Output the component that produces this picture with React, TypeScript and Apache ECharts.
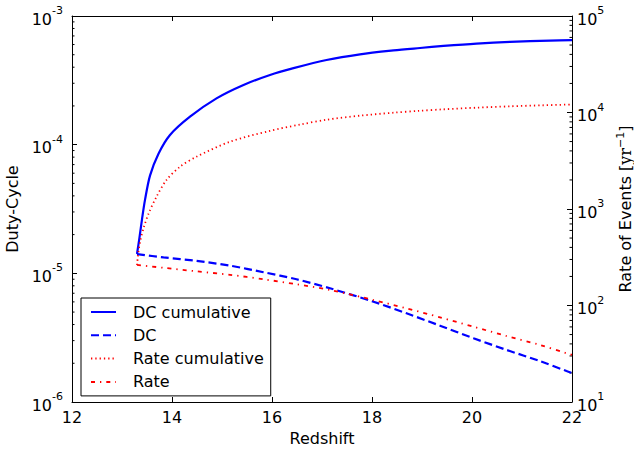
import React, { useEffect, useRef } from "react";
import * as echarts from "echarts";

const FONT = "DejaVu Sans";

const dcCumZ = [13.3, 13.35, 13.4, 13.46, 13.56, 13.73, 13.96, 14.36, 14.89, 15.43, 15.96, 16.43, 17.09, 17.76, 18.43, 18.96, 19.43, 20.09, 20.76, 21.56, 22.0];
const dcCumV = [1.413e-5, 1.905e-5, 2.63e-5, 3.72e-5, 5.75e-5, 8.51e-5, 1.19e-4, 1.65e-4, 2.29e-4, 2.91e-4, 3.48e-4, 3.93e-4, 4.55e-4, 5.04e-4, 5.4e-4, 5.64e-4, 5.85e-4, 6.11e-4, 6.3e-4, 6.43e-4, 6.49e-4];

const dcZ = [13.3, 13.83, 14.49, 15.16, 15.83, 16.49, 17.16, 18.03, 18.69, 19.36, 20.03, 20.69, 21.36, 21.89, 22.0];
const dcV = [1.41e-5, 1.33e-5, 1.25e-5, 1.147e-5, 1.02e-5, 8.99e-6, 7.65e-6, 6.02e-6, 4.89e-6, 3.92e-6, 3.13e-6, 2.54e-6, 2.08e-6, 1.74e-6, 1.68e-6];

const rateCumZ = [13.3, 13.33, 13.37, 13.43, 13.53, 13.69, 13.89, 14.16, 14.49, 15.16, 15.96, 16.56, 17.09, 17.76, 18.43, 18.93, 19.43, 20.09, 20.76, 21.43, 22.0];
const rateCumV = [263, 363, 479, 631, 891, 1340, 1995, 2742, 3483, 4977, 6457, 7499, 8414, 9268, 9954, 10399, 10790, 11220, 11590, 11885, 12106];

const rateZ = [13.3, 13.83, 14.49, 15.16, 15.83, 16.49, 17.16, 18.03, 18.69, 19.36, 20.03, 20.69, 21.36, 21.89, 22.0];
const rateV = [263, 246, 226, 208, 187, 166, 145, 114, 93.5, 75.4, 60.3, 48.3, 39.0, 32.0, 30.8];

const seriesNames = ["DC cumulative", "DC", "Rate cumulative", "Rate"];
const xTicks = { min: 12, max: 22, interval: 2 };
const leftRange = { min: 1e-6, max: 1e-3 };
const rightRange = { min: 1e1, max: 1e5 };
const minorMultipliers = [2, 3, 4, 5, 6, 7, 8, 9];
const leftDecades = [1e-6, 1e-5, 1e-4];
const rightDecades = [1e1, 1e2, 1e3, 1e4];

const zip = (xs: number[], ys: number[]) => xs.map((x, i) => [x, ys[i]]);

const logLabel = (v: number) => {
  const e = Math.round(Math.log10(v));
  return "{b|10}{s|" + e + "}";
};

const labelRich = {
  b: { fontSize: 16, fontFamily: FONT, color: "#000", lineHeight: 22, verticalAlign: "bottom" },
  s: { fontSize: 11, fontFamily: FONT, color: "#000", lineHeight: 22, verticalAlign: "top" },
};

export default function App() {
  const ref = useRef<HTMLDivElement>(null);
  useEffect(() => {
    if (!ref.current) return;
    const chart = echarts.init(ref.current, undefined, { renderer: "svg" });

    const leftMinor: number[][] = [];
    leftDecades.forEach((d) => minorMultipliers.forEach((m) => leftMinor.push([xTicks.min, d * m])));
    const rightMinor: number[][] = [];
    rightDecades.forEach((d) => minorMultipliers.forEach((m) => rightMinor.push([xTicks.max, d * m])));

    const tickSeries = (data: number[][], yIdx: number, dir: number) => ({
      type: "custom",
      yAxisIndex: yIdx,
      xAxisIndex: 0,
      silent: true,
      clip: false,
      data,
      renderItem: (_p: any, api: any) => {
        const pt = api.coord([api.value(0), api.value(1)]);
        return {
          type: "line",
          shape: { x1: pt[0], y1: pt[1], x2: pt[0] + dir * 2.5, y2: pt[1] },
          style: { stroke: "#000", lineWidth: 1 },
        };
      },
    });

    const axisLine = { show: true, lineStyle: { color: "#000", width: 1 } };
    const lineCommon = {
      type: "line",
      showSymbol: false,
      symbol: "none",
      smooth: 0.3,
    };

    chart.setOption({
      animation: false,
      backgroundColor: "#fff",
      textStyle: { fontFamily: FONT },
      grid: { left: 72, right: 62, top: 16, bottom: 49, containLabel: false, outerBoundsMode: "none" },
      legend: {
        data: seriesNames,
        orient: "vertical",
        left: 81,
        top: 298,
        itemWidth: 25,
        itemHeight: 16,
        itemGap: 7.3,
        padding: [6, 7, 6, 9],
        backgroundColor: "#fff",
        borderColor: "#000",
        borderWidth: 1,
        borderRadius: 0,
        itemStyle: { opacity: 0 },
        textStyle: {
          fontSize: 16,
          color: "#000",
          fontFamily: FONT,
          rich: { t: { fontSize: 16, color: "#000", fontFamily: FONT, padding: [0, 0, 0, 12] } },
        },
        formatter: (name: string) => "{t|" + name + "}",
      },
      xAxis: [
        {
          type: "value",
          min: xTicks.min,
          max: xTicks.max,
          interval: xTicks.interval,
          name: "Redshift",
          nameLocation: "middle",
          nameGap: 28,
          nameTextStyle: { fontSize: 16, color: "#000", fontFamily: FONT },
          axisLine,
          axisTick: { inside: true, length: 5, lineStyle: { color: "#000" } },
          axisLabel: { fontSize: 16, color: "#000", margin: 7, fontFamily: FONT },
          splitLine: { show: false },
        },
        {
          type: "value",
          position: "top",
          min: xTicks.min,
          max: xTicks.max,
          interval: xTicks.interval,
          axisLine,
          axisTick: { inside: true, length: 5, lineStyle: { color: "#000" } },
          axisLabel: { show: false },
          splitLine: { show: false },
        },
      ],
      yAxis: [
        {
          type: "log",
          logBase: 10,
          min: leftRange.min,
          max: leftRange.max,
          position: "left",
          name: "Duty-Cycle",
          nameLocation: "middle",
          nameRotate: 90,
          nameGap: 46,
          nameTextStyle: { fontSize: 16, color: "#000", fontFamily: FONT },
          axisLine,
          axisTick: { inside: true, length: 5, lineStyle: { color: "#000" } },
          axisLabel: { formatter: logLabel, rich: labelRich, margin: 9 },
          splitLine: { show: false },
        },
        {
          type: "log",
          logBase: 10,
          min: rightRange.min,
          max: rightRange.max,
          position: "right",
          name: "Rate of Events [{i|yr}{s|−1}]",
          nameLocation: "middle",
          nameRotate: 90,
          nameGap: 43,
          nameTextStyle: {
            fontSize: 16,
            color: "#000",
            fontFamily: FONT,
            rich: {
              i: { fontSize: 16, fontFamily: "DejaVu Serif", color: "#000" },
              s: { fontSize: 11, fontFamily: FONT, color: "#000", verticalAlign: "top", lineHeight: 20 },
            },
          },
          axisLine,
          axisTick: { inside: true, length: 5, lineStyle: { color: "#000" } },
          axisLabel: { formatter: logLabel, rich: labelRich, margin: 5 },
          splitLine: { show: false },
        },
      ],
      series: [
        {
          ...lineCommon,
          name: seriesNames[0],
          yAxisIndex: 0,
          data: zip(dcCumZ, dcCumV),
          lineStyle: { color: "#0000ff", width: 2.2, type: "solid" },
          itemStyle: { color: "#0000ff" },
        },
        {
          ...lineCommon,
          name: seriesNames[1],
          yAxisIndex: 0,
          data: zip(dcZ, dcV),
          lineStyle: { color: "#0000ff", width: 2.2, type: [8, 4] },
          itemStyle: { color: "#0000ff" },
        },
        {
          ...lineCommon,
          name: seriesNames[2],
          yAxisIndex: 1,
          data: zip(rateCumZ, rateCumV),
          lineStyle: { color: "#ff0000", width: 1.8, type: [1.3, 3] },
          itemStyle: { color: "#ff0000" },
        },
        {
          ...lineCommon,
          name: seriesNames[3],
          yAxisIndex: 1,
          data: zip(rateZ, rateV),
          lineStyle: { color: "#ff0000", width: 1.8, type: [4, 5, 1.3, 5] },
          itemStyle: { color: "#ff0000" },
        },
        tickSeries(leftMinor, 0, 1),
        tickSeries(rightMinor, 1, -1),
      ],
    });
    return () => chart.dispose();
  }, []);
  return (
    <div
      ref={ref}
      style={{ position: "absolute", left: 0, top: 0, width: 634, height: 451 }}
    />
  );
}
